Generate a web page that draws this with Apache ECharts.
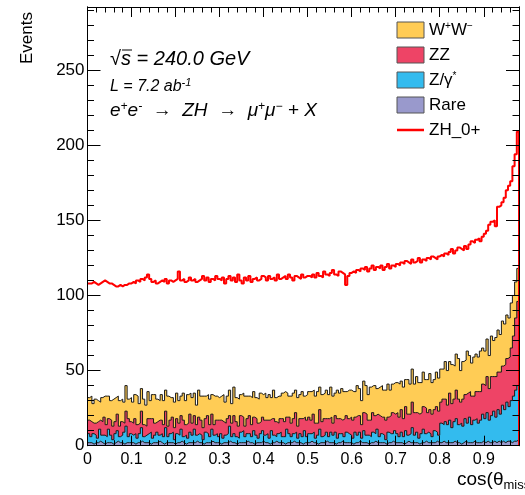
<!DOCTYPE html>
<html>
<head>
<meta charset="utf-8">
<title>cos theta miss</title>
<script src="https://cdn.jsdelivr.net/npm/echarts@6.0.0/dist/echarts.min.js"></script>
<style>
  html, body { margin: 0; padding: 0; background: #fff; }
  #chart { width: 525px; height: 495px; }
</style>
</head>
<body>
<div id="chart"></div>
<script>
// 0.005 wide bins from 0 up to 0.98 (196 bins)
var binWidth = 0.005;

var rare = [
  2,2,1,2,2, 3,2,1,2,2, 2,1,2,3,2, 2,1,2,2,2,
  2,1,2,2,3, 2,2,2,1,2, 2,2,3,2,1, 2,2,2,2,1,
  2,2,3,2,1, 2,2,2,2,3, 2,2,1,2,2, 2,3,2,2,2,
  1,2,2,2,3, 2,2,1,2,2, 2,2,3,2,2, 1,2,2,2,3,
  2,2,1,2,2, 3,2,2,2,1, 2,2,2,3,2, 2,2,1,2,2,
  2,3,2,2,1, 2,2,2,3,2, 2,2,1,2,2, 3,2,2,2,2,
  1,2,2,3,2, 2,2,1,2,2, 3,2,2,2,2, 1,2,2,3,2,
  2,2,2,1,2, 3,2,2,2,2, 1,2,2,3,2, 2,2,2,3,2,
  2,3,2,2,2, 2,3,2,2,1, 2,3,2,2,2, 3,2,2,2,3,
  2,3,2,2,3, 2,3,2,3,2, 3,3,2,3,3, 4
];
var zgamma = [
  6,4,7,5,3, 8,5,6,4,9, 5,3,6,7,4, 5,8,11,4,6,
  5,7,3,6,9, 4,5,6,8,3, 5,7,4,6,5, 10,4,6,7,3,
  6,5,8,4,6, 3,7,5,9,4, 6,5,3,7,6, 4,8,5,6,4,
  7,3,5,6,10, 4,6,5,3,7, 8,4,5,6,4, 9,5,3,6,7,
  5,6,4,8,5, 3,6,7,4,5, 9,6,4,5,7, 3,6,5,8,4,
  6,5,7,3,6, 9,4,5,6,4, 7,5,8,3,6, 5,4,7,6,5,
  4,7,5,6,3, 8,5,6,4,7, 5,9,4,6,5, 3,7,6,5,8,
  6,4,7,5,8, 4,6,10,5,7, 4,6,9,5,7, 6,4,8,6,5,
  13,11,14,12,15, 10,13,16,12,14, 11,15,13,17,12, 14,16,13,15,18,
  16,19,15,18,20, 17,21,19,24,22, 26,23,28,30,34, 36
];
var zz = [
  9,10,7,8,11, 6,9,12,8,7, 10,9,8,11,7, 9,6,10,12,8,
  8,10,9,7,11, 8,6,10,9,13, 8,7,10,9,8, 11,7,9,10,8,
  10,8,9,11,7, 10,12,8,9,7, 11,10,8,9,12, 8,10,7,9,11,
  9,11,8,10,7, 9,12,10,8,11, 9,7,10,12,8, 9,11,10,8,9,
  10,9,12,8,11, 10,7,9,12,10, 8,11,9,10,13, 8,10,12,9,11,
  11,9,12,10,8, 13,10,11,9,12, 10,8,11,13,10, 9,12,11,10,12,
  12,10,13,11,9, 12,14,10,11,13, 12,10,14,11,12, 13,10,12,14,11,
  14,13,15,12,16, 14,13,17,15,13, 16,14,15,17,13, 16,15,14,17,16,
  14,17,15,13,18, 16,15,19,17,14, 18,16,20,17,19, 16,18,21,19,20,
  22,24,21,26,23, 27,25,28,26,30, 29,33,35,40,48, 56
];
var ww = [
  15,17,13,16,14, 12,16,14,19,15, 13,18,16,12,17, 15,14,17,13,16,
  14,16,19,13,15, 17,14,18,12,16, 19,15,13,17,16, 14,20,15,13,17,
  17,15,13,18,16, 19,14,17,15,13, 18,16,21,15,14, 17,13,19,16,15,
  16,18,14,15,17, 13,19,16,18,14, 16,20,15,13,18, 17,14,16,19,15,
  18,15,17,14,19, 16,18,15,17,20, 16,14,18,17,15, 19,16,18,14,17,
  17,19,16,18,21, 15,18,17,19,16, 20,18,15,19,17, 21,18,16,19,18,
  19,17,20,18,16, 21,19,17,22,18, 20,17,19,21,18, 20,22,17,19,21,
  20,22,19,21,18, 23,20,22,19,24, 21,20,23,19,22, 24,21,20,23,22,
  22,20,25,23,21, 26,22,24,27,21, 25,23,28,24,22, 26,25,23,27,24,
  23,25,22,27,24, 26,28,25,30,27, 29,26,30,27,24, 22
];
var zh0 = [
  108,108,109,108,107, 108,109,110,109,108, 108,107,106,106,107, 106,107,107,108,108,
  109,108,110,109,111, 110,112,114,111,109, 110,108,109,110,109, 111,108,110,109,110,
  111,116,110,111,109, 110,112,110,111,109, 110,111,113,110,112, 109,111,110,113,111,
  110,112,108,111,113, 110,112,109,114,110, 108,112,110,113,109, 111,112,110,111,113,
  112,110,113,111,112, 110,114,111,112,113, 111,114,112,110,113, 112,111,114,112,113,
  113,112,114,112,115, 113,112,116,114,113, 115,117,114,113,116, 115,114,107,113,115,
  116,115,117,116,118, 117,119,116,118,120, 117,119,118,120,117, 119,121,118,120,119,
  121,120,122,121,123, 122,121,124,122,123, 125,122,124,123,125, 124,126,125,124,126,
  127,126,128,127,129, 131,128,130,132,131, 130,133,131,134,136, 135,137,138,136,139,
  141,143,147,149,150, 146,159,160,162,165, 170,173,176,186,194, 209
];

var xMin = 0, xMax = 0.98;
var yMin = 0, yMax = 292;

var legendText = {
  'W+W-': 'W{sup|+}W{sup|\u2212}',
  'ZZ': 'ZZ',
  'Z/gamma*': 'Z/\u03b3{sup|*}',
  'Rare': 'Rare',
  'ZH_0+': 'ZH_0+'
};

var colors = {
  ww: '#ffcc55',
  zz: '#ee4466',
  zgamma: '#33bbee',
  rare: '#9999cc',
  zh0: '#ff0000'
};

// THStack style: each background drawn as the cumulative sum of itself and
// everything below it, top one first
function addUp(a, b) { return a.map(function (v, i) { return v + b[i]; }); }
var cumRare = rare.slice();
var cumZgamma = addUp(cumRare, zgamma);
var cumZz = addUp(cumZgamma, zz);
var cumWw = addUp(cumZz, ww);

function histPoints(values, closeToZero) {
  var pts = [];
  for (var i = 0; i < values.length; i++) {
    pts.push([+(i * binWidth).toFixed(3), values[i]]);
  }
  var end = +(values.length * binWidth).toFixed(3);
  pts.push([end, values[values.length - 1]]);
  if (closeToZero) pts.push([end, 0]);
  return pts;
}

function bgSeries(name, values, fill, z) {
  return {
    name: name,
    type: 'line',
    step: 'end',
    data: histPoints(values, false),
    symbol: 'none',
    z: z,
    lineStyle: { color: '#1a1a1a', width: 1 },
    areaStyle: { color: fill, opacity: 1, origin: 'start' },
    itemStyle: { color: fill },
    emphasis: { disabled: true }
  };
}

function tickAxis(dim, position, interval, len, labels) {
  var ax = {
    type: 'value',
    position: position,
    min: dim === 'x' ? xMin : yMin,
    max: dim === 'x' ? xMax : yMax,
    interval: interval,
    z: 20,
    splitLine: { show: false },
    axisLine: { show: true, onZero: false, lineStyle: { color: '#000', width: 1 } },
    axisTick: { show: true, inside: true, length: len, lineStyle: { color: '#000', width: 1 } },
    axisLabel: { show: false }
  };
  if (labels) {
    ax.axisLabel = {
      show: true,
      fontFamily: 'Liberation Sans',
      fontSize: dim === 'x' ? 16 : 17,
      color: '#000',
      margin: dim === 'x' ? 6 : 3,
      formatter: dim === 'x'
        ? function (v) {
            var r = Math.round(v * 10) / 10;
            if (Math.abs(v - r) > 1e-6 || r > 0.9) return '';
            return r === 0 ? '0' : r.toFixed(1);
          }
        : function (v) { return v % 50 === 0 ? String(v) : ''; }
    };
  }
  return ax;
}

var chart = echarts.init(document.getElementById('chart'), null, { renderer: 'canvas' });

var option = {
  animation: false,
  backgroundColor: '#fff',
  grid: { left: 87.5, right: 6, top: 7, bottom: 49.3, show: false },
  xAxis: [
    tickAxis('x', 'bottom', 0.1, 10, true),
    tickAxis('x', 'bottom', 0.02, 5.5, false),
    tickAxis('x', 'top', 0.1, 10, false),
    tickAxis('x', 'top', 0.02, 5.5, false)
  ],
  yAxis: [
    tickAxis('y', 'left', 50, 13, true),
    tickAxis('y', 'left', 10, 6.5, false),
    tickAxis('y', 'right', 50, 13, false),
    tickAxis('y', 'right', 10, 6.5, false)
  ],
  legend: {
    orient: 'vertical',
    left: 396.5,
    top: 21.5,
    padding: 0,
    itemWidth: 27,
    itemHeight: 16,
    itemGap: 8,
    selectedMode: false,
    symbolKeepAspect: true,
    formatter: function (name) { return legendText[name]; },
    textStyle: {
      fontFamily: 'Liberation Sans',
      fontSize: 17,
      color: '#000',
      rich: {
        sup: { fontSize: 10, verticalAlign: 'top', lineHeight: 10, fontFamily: 'Liberation Sans', color: '#000' }
      }
    },
    data: [
      { name: 'W+W-', icon: 'rect', itemStyle: { borderColor: '#555', borderWidth: 1 } },
      { name: 'ZZ', icon: 'rect', itemStyle: { borderColor: '#555', borderWidth: 1 } },
      { name: 'Z/gamma*', icon: 'rect', itemStyle: { borderColor: '#555', borderWidth: 1 } },
      { name: 'Rare', icon: 'rect', itemStyle: { borderColor: '#555', borderWidth: 1 } },
      { name: 'ZH_0+', icon: 'path://M0,0 L27,0 L27,2.5 L0,2.5 Z', itemStyle: { borderWidth: 0 } }
    ]
  },
  series: [
    bgSeries('W+W-', cumWw, colors.ww, 2),
    bgSeries('ZZ', cumZz, colors.zz, 3),
    bgSeries('Z/gamma*', cumZgamma, colors.zgamma, 4),
    bgSeries('Rare', cumRare, colors.rare, 5),
    {
      name: 'ZH_0+',
      type: 'line',
      step: 'end',
      data: histPoints(zh0, true),
      symbol: 'none',
      z: 10,
      lineStyle: { color: colors.zh0, width: 2 },
      itemStyle: { color: colors.zh0 },
      emphasis: { disabled: true }
    }
  ],
  graphic: [
    {
      type: 'text', x: 27, y: 12, rotation: Math.PI / 2,
      style: { text: 'Events', fontFamily: 'Liberation Sans', fontSize: 17, fill: '#000', align: 'right', verticalAlign: 'middle' }
    },
    {
      type: 'text', x: 457, y: 480,
      style: {
        text: 'cos(\u03b8{sub|miss})',
        fontFamily: 'Liberation Sans', fontSize: 19, fill: '#000', verticalAlign: 'middle',
        rich: { sub: { fontSize: 13, verticalAlign: 'bottom', padding: [11, 0, 0, 0] } }
      }
    },
    {
      type: 'text', x: 110, y: 59,
      style: { text: '\u221as = 240.0 GeV', fontFamily: 'Liberation Sans', fontStyle: 'italic', fontSize: 20, fill: '#000', verticalAlign: 'middle' }
    },
    {
      type: 'line', shape: { x1: 122, y1: 50, x2: 132, y2: 50 }, style: { stroke: '#000', lineWidth: 1 }
    },
    {
      type: 'text', x: 110, y: 87,
      style: {
        text: 'L = 7.2 ab{sup|-1}',
        fontFamily: 'Liberation Sans', fontStyle: 'italic', fontSize: 16, fill: '#000', verticalAlign: 'middle',
        rich: { sup: { fontSize: 11, fontStyle: 'italic', verticalAlign: 'top', padding: [0, 0, 8, 0] } }
      }
    },
    {
      type: 'text', x: 110, y: 111,
      style: {
        text: 'e{sup|+}e{sup|-}  \u2192  ZH  \u2192  \u03bc{sup|+}\u03bc{sup|\u2212} + X',
        fontFamily: 'Liberation Sans', fontStyle: 'italic', fontSize: 19, fill: '#000', verticalAlign: 'middle',
        rich: { sup: { fontSize: 12, fontStyle: 'italic', verticalAlign: 'top', padding: [0, 0, 9, 0] } }
      }
    }
  ]
};

chart.setOption(option);
</script>
</body>
</html>
